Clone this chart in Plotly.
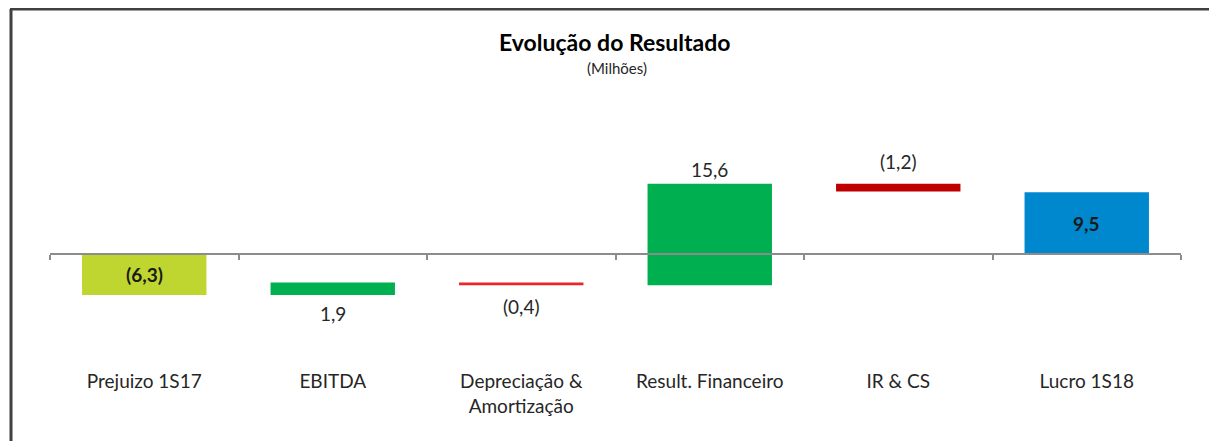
import plotly.graph_objects as go

categories = ["Prejuizo 1S17", "EBITDA", "Depreciação &<br>Amortização",
              "Result. Financeiro", "IR & CS", "Lucro 1S18"]
values = [-6.3, 1.9, -0.4, 15.6, -1.2, 9.5]
is_total = [True, False, False, False, False, True]
colors = ["#BED62F", "#00B050", "#E8262B", "#00B050", "#C00000", "#0088CF"]
label_pos = ["inside", "below", "below", "above", "above", "inside"]
label_shift = [0, -5, -8, 1, 9, 0]


def fmt(v):
    s = f"{abs(v):.1f}".replace(".", ",")
    return f"({s})" if v < 0 else s


# waterfall bases from data
bases = []
running = 0.0
for v, tot in zip(values, is_total):
    if tot:
        bases.append(0.0)
        running = v
    else:
        bases.append(running)
        running += v

FONT = "Lato, Open Sans, sans-serif"
x = list(range(len(categories)))

# page layout (page px; page has an 8px body offset)
OFF = 8
PX0, PX1, PY0, PY1 = 50, 1181, 100, 368
W, H = 1217, 441


def px(p):
    return (p - PX0) / (PX1 - PX0)


def py(p):
    return (PY1 - p) / (PY1 - PY0)


fig = go.Figure()
fig.add_trace(go.Bar(
    x=x, y=values, base=bases, width=0.66,
    marker=dict(color=colors, line=dict(width=0)),
    hoverinfo="skip", showlegend=False,
))
fig.add_trace(go.Scatter(x=[0], y=[0], xaxis="x2", mode="markers",
                         marker=dict(opacity=0), showlegend=False, hoverinfo="skip"))

ymin, ymax = -(PY1 - 254) / 6.5, (254 - PY0) / 6.5

for i, (v, b, pos, sh) in enumerate(zip(values, bases, label_pos, label_shift)):
    lo, hi = min(b, b + v), max(b, b + v)
    if pos == "inside":
        fig.add_annotation(x=i, y=(lo + hi) / 2, text=f"<b>{fmt(v)}</b>", showarrow=False,
                           font=dict(size=19, color="#1a1a1a", family=FONT))
    elif pos == "below":
        fig.add_annotation(x=i, y=lo, text=fmt(v), showarrow=False, yanchor="top", yshift=sh,
                           font=dict(size=19, color="#262626", family=FONT))
    else:
        fig.add_annotation(x=i, y=hi, text=fmt(v), showarrow=False, yanchor="bottom", yshift=sh,
                           font=dict(size=19, color="#262626", family=FONT))

fig.add_annotation(xref="paper", yref="paper", x=px(615), y=py(42), yanchor="middle",
                   text="<b>Evolução do Resultado</b>", showarrow=False,
                   font=dict(size=23, color="#000000", family=FONT))
fig.add_annotation(xref="paper", yref="paper", x=px(617), y=py(68), yanchor="middle",
                   text="(Milhões)", showarrow=False,
                   font=dict(size=15, color="#262626", family=FONT))

zero_pos = (0 - ymin) / (ymax - ymin)

fig.update_layout(
    width=W, height=H,
    margin=dict(l=PX0 - OFF, r=W - (PX1 - OFF), t=PY0 - OFF, b=H - (PY1 - OFF)),
    paper_bgcolor="white", plot_bgcolor="white",
    font=dict(family=FONT, size=19, color="#262626"),
    xaxis=dict(tickvals=x, ticktext=categories, range=[-0.5, 5.5], showgrid=False,
               zeroline=False, showline=False, ticks="", tickfont=dict(size=19, color="#262626")),
    xaxis2=dict(overlaying="x", anchor="free", position=zero_pos, range=[-0.5, 5.5],
                tickvals=[i - 0.5 for i in range(len(categories) + 1)], showticklabels=False,
                ticks="outside", ticklen=5, tickwidth=2, tickcolor="#8C8C8C",
                showline=True, linecolor="#8C8C8C", linewidth=2, showgrid=False, zeroline=False),
    yaxis=dict(range=[ymin, ymax], visible=False, showgrid=False, zeroline=False),
    shapes=[
        dict(type="line", xref="paper", yref="paper", x0=px(10), x1=px(1240),
             y0=py(9), y1=py(9), line=dict(color="#404040", width=3)),
        dict(type="line", xref="paper", yref="paper", x0=px(11), x1=px(11),
             y0=py(9), y1=py(460), line=dict(color="#404040", width=3)),
    ],
)

fig.write_html("out.html")
